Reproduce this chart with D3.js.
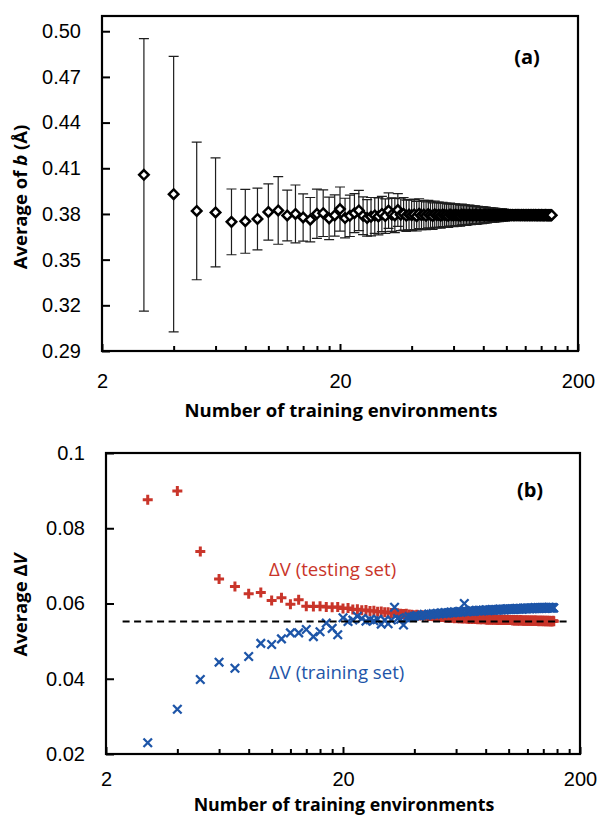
<!DOCTYPE html>
<html>
<head>
<meta charset="utf-8">
<script src="https://cdn.jsdelivr.net/npm/d3@7"></script>
<style>
  html, body { margin: 0; padding: 0; background: #fff; }
  svg { display: block; font-family: "Open Sans", Lato, "DejaVu Sans", sans-serif; }
</style>
</head>
<body>
<svg id="chart" width="597" height="816"></svg>
<script>
// ---- data -------------------------------------------------------------
// number of training environments: every integer from nMin to nMax
const nMin = 3, nMax = 155;
const envCounts = d3.range(nMin, nMax + 1);

// (a) average of b (Å) and its standard deviation, per training-set size
const bMean = [
  0.4057, 0.3930, 0.3820, 0.3810, 0.3748, 0.3752, 0.3767, 0.3813, 0.3823, 0.3790,
  0.3800, 0.3777, 0.3762, 0.3801, 0.3805, 0.3771, 0.3790, 0.3832, 0.3773, 0.3788,
  0.3805, 0.3823, 0.3788, 0.3774, 0.3782, 0.3790, 0.3784, 0.3800, 0.3786, 0.3822,
  0.3795, 0.3790, 0.3826, 0.3795, 0.3801, 0.3788, 0.3796, 0.3792, 0.3797, 0.3785,
  0.3802, 0.3791, 0.3796, 0.3788, 0.3799, 0.3793, 0.3786, 0.3798, 0.3792, 0.3795,
  0.3789, 0.3797, 0.3791, 0.3794, 0.3788, 0.3796, 0.3792, 0.3790, 0.3795, 0.3791,
  0.3793, 0.3789, 0.3796, 0.3792, 0.3794, 0.3790, 0.3793, 0.3795, 0.3791, 0.3793,
  0.3792, 0.3795, 0.3790, 0.3793, 0.3792, 0.3794, 0.3791, 0.3793, 0.3792, 0.3794,
  0.3791, 0.3793, 0.3792, 0.3793, 0.3791, 0.3794, 0.3792, 0.3793, 0.3792, 0.3793,
  0.3791, 0.3793, 0.3792, 0.3794, 0.3792, 0.3793, 0.3791, 0.3793, 0.3792, 0.3793,
  0.3792, 0.3793, 0.3792, 0.3793, 0.3792, 0.3792, 0.3793, 0.3792, 0.3793, 0.3792,
  0.3793, 0.3792, 0.3792, 0.3793, 0.3792, 0.3793, 0.3792, 0.3792, 0.3793, 0.3792,
  0.3792, 0.3793, 0.3792, 0.3792, 0.3793, 0.3792, 0.3792, 0.3793, 0.3792, 0.3792,
  0.3793, 0.3792, 0.3792, 0.3792, 0.3793, 0.3792, 0.3792, 0.3792, 0.3793, 0.3792,
  0.3792, 0.3792, 0.3792, 0.3793, 0.3792, 0.3792, 0.3792, 0.3792, 0.3792, 0.3792,
  0.3792, 0.3792, 0.3792
];
const bErr = [
  0.0895, 0.0905, 0.0452, 0.0358, 0.0216, 0.0210, 0.0203, 0.0185, 0.0222, 0.0167,
  0.0190, 0.0155, 0.0146, 0.0162, 0.0153, 0.0140, 0.0135, 0.0145, 0.0130, 0.0136,
  0.0128, 0.0132, 0.0124, 0.0120, 0.0126, 0.0118, 0.0121, 0.0116, 0.0113, 0.0117,
  0.0110, 0.0112, 0.0108, 0.0105, 0.0107, 0.0103, 0.0100, 0.0101, 0.0099, 0.0097,
  0.0098, 0.0094, 0.0093, 0.0091, 0.0090, 0.0089, 0.0087, 0.0086, 0.0084, 0.0083,
  0.0082, 0.0080, 0.0079, 0.0078, 0.0077, 0.0075, 0.0074, 0.0073, 0.0072, 0.0071,
  0.0070, 0.0069, 0.0068, 0.0067, 0.0066, 0.0065, 0.0064, 0.0063, 0.0062, 0.0061,
  0.0060, 0.0059, 0.0058, 0.0057, 0.0056, 0.0055, 0.0054, 0.0053, 0.0052, 0.0051,
  0.0050, 0.0049, 0.0048, 0.0047, 0.0046, 0.0045, 0.0045, 0.0044, 0.0043, 0.0042,
  0.0041, 0.0040, 0.0040, 0.0039, 0.0038, 0.0037, 0.0036, 0.0036, 0.0035, 0.0034,
  0.0034, 0.0033, 0.0032, 0.0031, 0.0031, 0.0030, 0.0029, 0.0029, 0.0028, 0.0027,
  0.0027, 0.0026, 0.0025, 0.0025, 0.0024, 0.0023, 0.0023, 0.0022, 0.0021, 0.0021,
  0.0020, 0.0020, 0.0019, 0.0018, 0.0018, 0.0017, 0.0017, 0.0016, 0.0015, 0.0015,
  0.0014, 0.0014, 0.0013, 0.0013, 0.0012, 0.0012, 0.0011, 0.0011, 0.0010, 0.0010,
  0.0009, 0.0009, 0.0008, 0.0008, 0.0007, 0.0007, 0.0006, 0.0006, 0.0005, 0.0005,
  0.0004, 0.0004, 0.0003
];

// (b) average ΔV on the testing set and on the training set
const dvTesting = [
  0.0876, 0.0899, 0.0738, 0.0665, 0.0645, 0.0626, 0.0629, 0.0608, 0.0615, 0.0598,
  0.0610, 0.0593, 0.0592, 0.0593, 0.0591, 0.0590, 0.0591, 0.0587, 0.0588, 0.0584,
  0.0585, 0.0582, 0.0583, 0.0580, 0.0581, 0.0578, 0.0579, 0.0577, 0.0577, 0.0575,
  0.0576, 0.0574, 0.0573, 0.0572, 0.0573, 0.0571, 0.0570, 0.0569, 0.0570, 0.0568,
  0.0569, 0.0568, 0.0568, 0.0567, 0.0567, 0.0566, 0.0566, 0.0565, 0.0565, 0.0564,
  0.0564, 0.0563, 0.0563, 0.0562, 0.0563, 0.0562, 0.0561, 0.0562, 0.0561, 0.0561,
  0.0561, 0.0560, 0.0561, 0.0560, 0.0560, 0.0559, 0.0560, 0.0559, 0.0560, 0.0559,
  0.0559, 0.0558, 0.0559, 0.0558, 0.0558, 0.0559, 0.0558, 0.0558, 0.0557, 0.0558,
  0.0557, 0.0558, 0.0557, 0.0557, 0.0558, 0.0557, 0.0557, 0.0556, 0.0557, 0.0557,
  0.0556, 0.0557, 0.0556, 0.0557, 0.0556, 0.0556, 0.0557, 0.0556, 0.0556, 0.0556,
  0.0556, 0.0555, 0.0556, 0.0555, 0.0555, 0.0556, 0.0555, 0.0555, 0.0555, 0.0556,
  0.0555, 0.0555, 0.0555, 0.0554, 0.0555, 0.0555, 0.0554, 0.0555, 0.0554, 0.0555,
  0.0554, 0.0554, 0.0555, 0.0554, 0.0554, 0.0554, 0.0555, 0.0554, 0.0554, 0.0554,
  0.0554, 0.0553, 0.0554, 0.0554, 0.0554, 0.0553, 0.0554, 0.0554, 0.0553, 0.0554,
  0.0553, 0.0554, 0.0553, 0.0554, 0.0553, 0.0553, 0.0554, 0.0553, 0.0553, 0.0553,
  0.0553, 0.0554, 0.0553
];
const dvTraining = [
  0.0230, 0.0319, 0.0398, 0.0444, 0.0428, 0.0459, 0.0494, 0.0491, 0.0506, 0.0522,
  0.0522, 0.0531, 0.0512, 0.0525, 0.0548, 0.0534, 0.0517, 0.0562, 0.0552, 0.0556,
  0.0566, 0.0560, 0.0553, 0.0557, 0.0554, 0.0558, 0.0545, 0.0556, 0.0546, 0.0556,
  0.0590, 0.0560, 0.0558, 0.0543, 0.0562, 0.0565, 0.0563, 0.0566, 0.0568, 0.0566,
  0.0569, 0.0571, 0.0568, 0.0572, 0.0570, 0.0573, 0.0571, 0.0574, 0.0572, 0.0575,
  0.0573, 0.0576, 0.0574, 0.0575, 0.0577, 0.0575, 0.0578, 0.0576, 0.0577, 0.0579,
  0.0577, 0.0578, 0.0600, 0.0579, 0.0578, 0.0580, 0.0579, 0.0581, 0.0579, 0.0580,
  0.0582, 0.0580, 0.0581, 0.0582, 0.0580, 0.0582, 0.0581, 0.0583, 0.0582, 0.0581,
  0.0583, 0.0582, 0.0584, 0.0582, 0.0583, 0.0584, 0.0582, 0.0584, 0.0583, 0.0585,
  0.0583, 0.0584, 0.0585, 0.0583, 0.0585, 0.0584, 0.0586, 0.0584, 0.0585, 0.0584,
  0.0586, 0.0585, 0.0584, 0.0586, 0.0585, 0.0587, 0.0585, 0.0586, 0.0585, 0.0587,
  0.0586, 0.0585, 0.0587, 0.0586, 0.0588, 0.0586, 0.0587, 0.0586, 0.0588, 0.0587,
  0.0586, 0.0588, 0.0587, 0.0586, 0.0588, 0.0587, 0.0589, 0.0587, 0.0588, 0.0587,
  0.0589, 0.0588, 0.0587, 0.0589, 0.0588, 0.0587, 0.0589, 0.0588, 0.0589, 0.0588,
  0.0587, 0.0589, 0.0588, 0.0589, 0.0588, 0.0590, 0.0588, 0.0589, 0.0588, 0.0589,
  0.0588, 0.0589, 0.0588
];
// horizontal dashed reference level in (b) and the span it covers
const dvReference = 0.0552;
const dvReferenceSpan = [2.35, 176];

// axis ticks
const xMajorTicks = [2, 20, 200];
const xMinorTicks = [4, 6, 8, 10, 12, 14, 16, 18, 40, 60, 80, 100, 120, 140, 160, 180];
const bTicks = [0.29, 0.32, 0.35, 0.38, 0.41, 0.44, 0.47, 0.50];
const dvTicks = [0.02, 0.04, 0.06, 0.08, 0.1];

// ---- drawing ------------------------------------------------------------
const RED = "#c9352a";
const BLUE = "#1d55a8";
const svg = d3.select("#chart");

// marker shapes
const diamond = { draw(ctx, size) { const r = Math.sqrt(size) / 2; ctx.moveTo(0, -r); ctx.lineTo(r, 0); ctx.lineTo(0, r); ctx.lineTo(-r, 0); ctx.closePath(); } };
const plus = { draw(ctx, size) { const r = Math.sqrt(size) / 2; ctx.moveTo(-r, 0); ctx.lineTo(r, 0); ctx.moveTo(0, -r); ctx.lineTo(0, r); } };
const cross = { draw(ctx, size) { const r = Math.sqrt(size) / 2; ctx.moveTo(-r, -r); ctx.lineTo(r, r); ctx.moveTo(r, -r); ctx.lineTo(-r, r); } };

function drawFrame(box, x, y, yTicks, yFmt, xPad) {
  const g = svg.append("g");
  // y axis: inward ticks, labels to the left
  g.append("g")
    .attr("transform", `translate(${box.left},0)`)
    .call(d3.axisLeft(y).tickValues(yTicks).tickFormat(yFmt).tickSize(-8).tickPadding(21))
    .call(a => a.select(".domain").remove())
    .call(a => a.selectAll("line").attr("stroke", "#000").attr("stroke-width", 2))
    .call(a => a.selectAll("text").attr("font-size", 20).attr("fill", "#000"));
  // x axis: major ticks with labels, minor ticks shorter
  g.append("g")
    .attr("transform", `translate(0,${box.bottom})`)
    .call(d3.axisBottom(x).tickValues(xMajorTicks).tickFormat(d3.format("d")).tickSize(-7).tickPadding(xPad))
    .call(a => a.select(".domain").remove())
    .call(a => a.selectAll("line").attr("stroke", "#000").attr("stroke-width", 2))
    .call(a => a.selectAll("text").attr("font-size", 20).attr("fill", "#000"));
  g.append("g")
    .attr("transform", `translate(0,${box.bottom})`)
    .call(d3.axisBottom(x).tickValues(xMinorTicks).tickFormat("").tickSize(-5))
    .call(a => a.select(".domain").remove())
    .call(a => a.selectAll("line").attr("stroke", "#000").attr("stroke-width", 2));
  // plot-area border
  g.append("rect")
    .attr("x", box.left).attr("y", box.top)
    .attr("width", box.right - box.left).attr("height", box.bottom - box.top)
    .attr("fill", "none").attr("stroke", "#000").attr("stroke-width", 2.2);
}

function xTitle(box, yPos, size) {
  svg.append("text")
    .attr("x", (box.left + box.right) / 2 + 1).attr("y", yPos)
    .attr("text-anchor", "middle").attr("font-weight", "bold").attr("font-size", size)
    .text("Number of training environments");
}

// ---------- panel (a) ----------
const boxA = { left: 102, right: 578, top: 16, bottom: 351 };
const xA = d3.scaleLog().domain([2, 200]).range([boxA.left, boxA.right]);
const yA = d3.scaleLinear().domain([0.29, 0.51]).range([boxA.bottom, boxA.top]);
drawFrame(boxA, xA, yA, bTicks, d3.format(".2f"), 23);

const rowsA = envCounts.map((n, i) => ({ n, m: bMean[i], e: bErr[i] }));
const errG = svg.append("g").attr("stroke", "#1e1e1e").attr("stroke-width", 1.2).attr("fill", "none");
const capHalf = 5;
errG.selectAll("path").data(rowsA).join("path")
  .attr("d", d => {
    const cx = xA(d.n), y1 = yA(d.m + d.e), y2 = yA(d.m - d.e);
    return `M${cx},${y1}V${y2}M${cx - capHalf},${y1}H${cx + capHalf}M${cx - capHalf},${y2}H${cx + capHalf}`;
  });
svg.append("g").selectAll("path").data(rowsA).join("path")
  .attr("transform", d => `translate(${xA(d.n)},${yA(d.m)})`)
  .attr("d", d3.symbol(diamond, 90))
  .attr("fill", "#fff").attr("stroke", "#000").attr("stroke-width", 2.5);

svg.append("text").attr("x", 527).attr("y", 57).attr("dy", "0.35em")
  .attr("text-anchor", "middle").attr("font-weight", "bold").attr("font-size", 20).text("(a)");

const yTitleA = svg.append("text")
  .attr("transform", "translate(21,197) rotate(-90)")
  .attr("text-anchor", "middle").attr("dy", "0.35em")
  .attr("font-weight", "bold").attr("font-size", 18.5);
yTitleA.append("tspan").text("Average of ");
yTitleA.append("tspan").attr("font-style", "italic").text("b");
yTitleA.append("tspan").text(" (Å)");
xTitle(boxA, 417, 18.5);

// ---------- panel (b) ----------
const boxB = { left: 106, right: 580, top: 453, bottom: 754 };
const xB = d3.scaleLog().domain([2, 200]).range([boxB.left, boxB.right]);
const yB = d3.scaleLinear().domain([0.02, 0.1]).range([boxB.bottom, boxB.top]);
drawFrame(boxB, xB, yB, dvTicks, d => d === 0.1 ? "0.1" : d3.format(".2f")(d), 17.5);

const rowsB = envCounts.map((n, i) => ({ n, test: dvTesting[i], train: dvTraining[i] }));
svg.append("g").selectAll("path").data(rowsB).join("path")
  .attr("transform", d => `translate(${xB(d.n)},${yB(d.test)})`)
  .attr("d", d3.symbol(plus, 100))
  .attr("fill", "none").attr("stroke", RED).attr("stroke-width", 3);
svg.append("g").selectAll("path").data(rowsB).join("path")
  .attr("transform", d => `translate(${xB(d.n)},${yB(d.train)})`)
  .attr("d", d3.symbol(cross, 72))
  .attr("fill", "none").attr("stroke", BLUE).attr("stroke-width", 2.3);

svg.append("line")
  .attr("x1", xB(dvReferenceSpan[0])).attr("x2", xB(dvReferenceSpan[1]))
  .attr("y1", yB(dvReference)).attr("y2", yB(dvReference))
  .attr("stroke", "#000").attr("stroke-width", 2).attr("stroke-dasharray", "7,4.5");

svg.append("text").attr("x", 530).attr("y", 490).attr("dy", "0.35em")
  .attr("text-anchor", "middle").attr("font-weight", "bold").attr("font-size", 20).text("(b)");

svg.append("text").attr("x", 269).attr("y", 569).attr("dy", "0.35em")
  .attr("font-size", 18.6).attr("fill", RED).text("ΔV (testing set)");
svg.append("text").attr("x", 269).attr("y", 672).attr("dy", "0.35em")
  .attr("font-size", 18.6).attr("fill", BLUE).text("ΔV (training set)");

const yTitleB = svg.append("text")
  .attr("transform", "translate(21,605) rotate(-90)")
  .attr("text-anchor", "middle").attr("dy", "0.35em")
  .attr("font-weight", "bold").attr("font-size", 18.5);
yTitleB.append("tspan").text("Average Δ");
yTitleB.append("tspan").attr("font-style", "italic").text("V");
xTitle(boxB, 811, 17.8);
</script>
</body>
</html>
